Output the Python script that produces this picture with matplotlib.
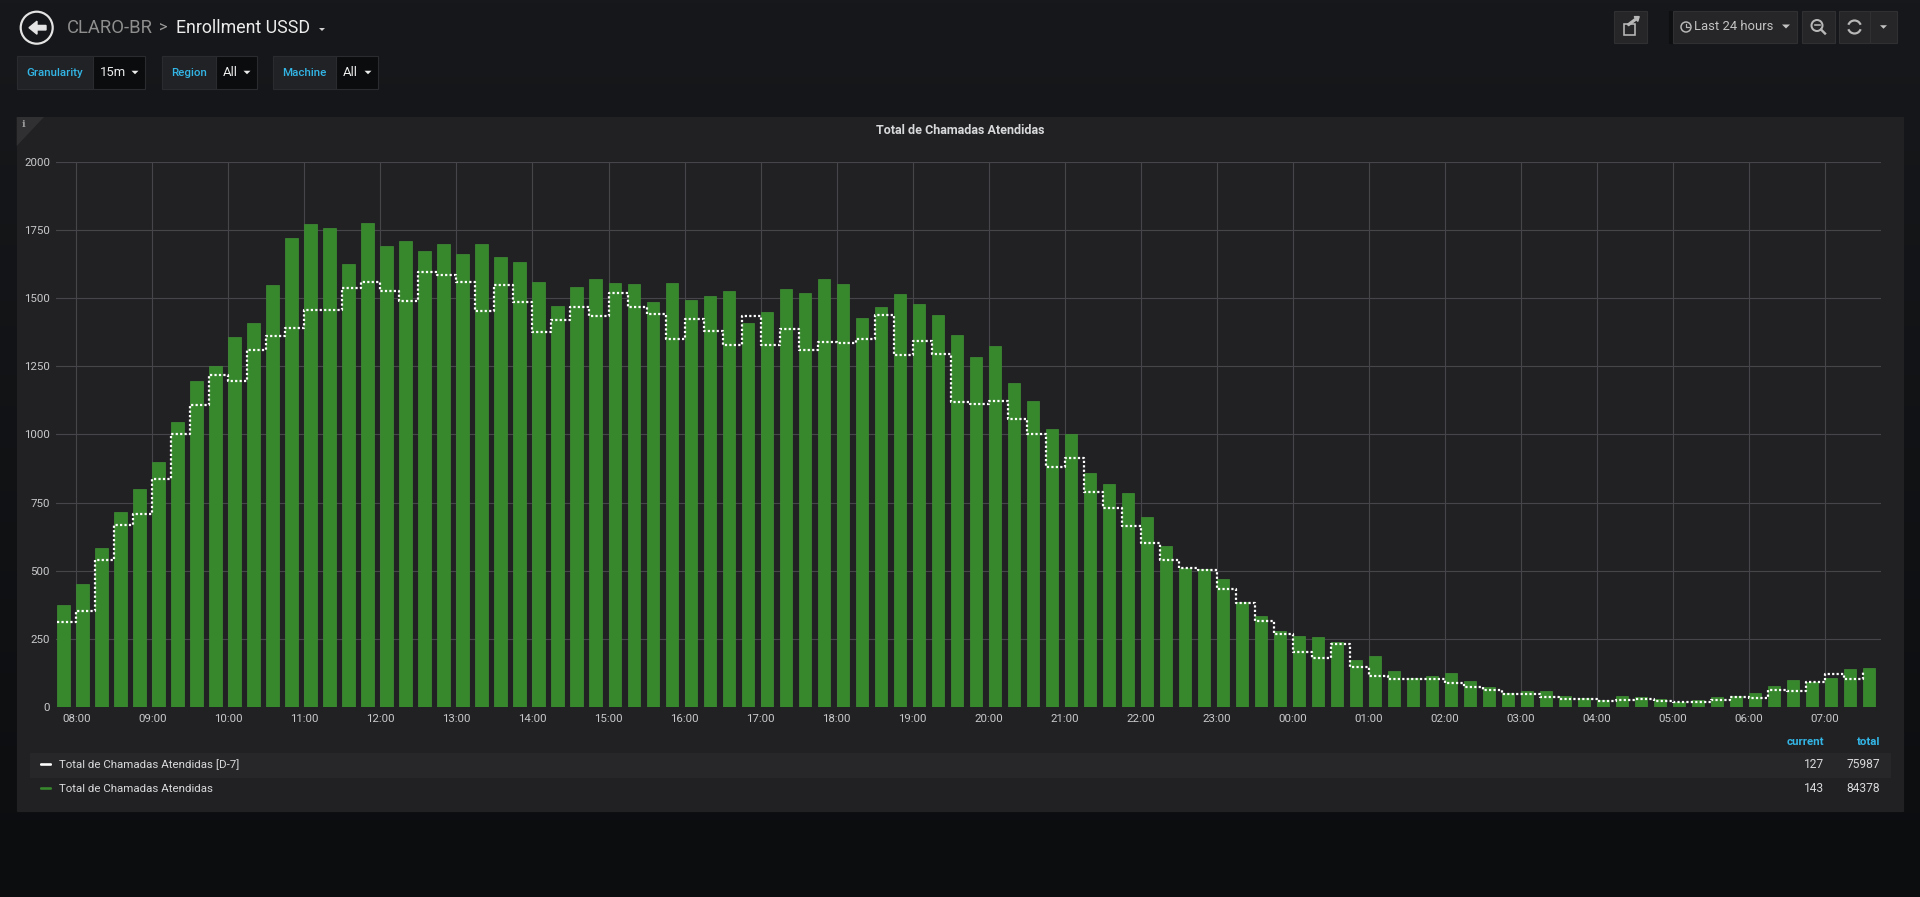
import matplotlib
matplotlib.use("Agg")
import matplotlib.pyplot as plt
import matplotlib.dates as mdates
import matplotlib.patches as mpatches
from matplotlib.colors import LinearSegmentedColormap
import numpy as np
import pandas as pd

plt.rcParams["font.family"] = ["Roboto", "DejaVu Sans"]

# 15-minute buckets, last 24 hours
START = "2018-06-11 07:45"
ATENDIDAS = [
    373, 451, 584, 714, 799, 898, 1044, 1194, 1250, 1356,
    1408, 1548, 1720, 1772, 1756, 1624, 1777, 1692, 1710, 1674,
    1698, 1661, 1698, 1650, 1632, 1560, 1471, 1542, 1571, 1556,
    1552, 1484, 1555, 1494, 1508, 1526, 1407, 1447, 1533, 1518,
    1571, 1550, 1426, 1468, 1513, 1478, 1436, 1363, 1285, 1323,
    1189, 1121, 1019, 1002, 857, 817, 785, 696, 590, 511,
    505, 468, 386, 332, 277, 262, 255, 239, 173, 186,
    133, 107, 115, 123, 96, 74, 52, 59, 58, 39,
    33, 26, 41, 38, 28, 20, 25, 35, 39, 52,
    77, 99, 90, 107, 141, 144,
]
ATENDIDAS_D7 = [
    312, 352, 540, 669, 709, 835, 1002, 1107, 1217, 1196,
    1311, 1360, 1391, 1455, 1455, 1536, 1558, 1526, 1489, 1594,
    1584, 1558, 1452, 1546, 1487, 1376, 1420, 1468, 1434, 1520,
    1466, 1443, 1349, 1423, 1379, 1327, 1434, 1327, 1385, 1308,
    1339, 1334, 1350, 1436, 1292, 1342, 1294, 1117, 1112, 1122,
    1057, 1002, 880, 912, 788, 731, 663, 602, 540, 508,
    503, 432, 381, 316, 267, 202, 178, 231, 146, 112,
    104, 103, 103, 88, 73, 62, 49, 46, 35, 29,
    29, 22, 25, 30, 23, 20, 20, 26, 38, 32,
    64, 57, 90, 120, 102, 127,
]
Y_TICKS = [0, 250, 500, 750, 1000, 1250, 1500, 1750, 2000]

SERIES_NAMES = ["Total de Chamadas Atendidas [D-7]", "Total de Chamadas Atendidas"]
LEGEND_CURRENT = ["127", "143"]
LEGEND_TOTAL = ["75987", "84378"]
VARIABLES = [("Granularity", "15m"), ("Region", "All"), ("Machine", "All")]

GREEN = "#37872D"
TEXT = "#d8d9da"
BLUE = "#33b5e5"
PANEL = "#212124"

W, H = 1920, 897
fig = plt.figure(figsize=(W / 100, H / 100), dpi=100)

# page background + chrome, drawn in pixel coordinates
bg = fig.add_axes([0, 0, 1, 1])
bg.set_xlim(0, W)
bg.set_ylim(H, 0)
bg.axis("off")
grad = LinearSegmentedColormap.from_list("page", ["#17181b", "#0c0d0f"])
bg.imshow(np.linspace(0, 1, 256).reshape(-1, 1), cmap=grad, extent=[0, W, H, 0],
          aspect="auto", zorder=0)


def px(v):
    return v * 0.72


def box(x0, y0, x1, y1, fc, ec=None, z=1):
    bg.add_patch(mpatches.Rectangle((x0, y0), x1 - x0, y1 - y0, facecolor=fc,
                                    edgecolor=ec if ec else fc, lw=0.8, zorder=z))


def caret(x, y, s, color):
    # small downward triangle centred on (x, y)
    bg.add_patch(mpatches.Polygon([(x - s, y - s / 2), (x + s, y - s / 2), (x, y + s / 2)],
                                  closed=True, facecolor=color, edgecolor="none", zorder=4))


# header: back button + breadcrumb
bg.add_patch(mpatches.Circle((36.7, 27.7), 16, facecolor="none", edgecolor="#e4e4e4",
                             lw=px(2.2), zorder=2))
bg.add_patch(mpatches.FancyArrow(46, 27.7, -9, 0, width=4.5, head_width=13,
                                 head_length=8, color="#e4e4e4", zorder=3))
bg.text(67, 28, "CLARO-BR", color="#8e8e8e", fontsize=px(18.5), va="center", zorder=3)
bg.text(159, 28, ">", color="#9a9a9a", fontsize=px(16), va="center", zorder=3)
bg.text(176, 28, "Enrollment USSD", color="#ececec", fontsize=px(17.8), va="center", zorder=3)
caret(322, 29.5, 3, "#d0d0d0")

# template variables
var_boxes = [(16.5, 93, 145), (161.7, 215.6, 257), (273, 336, 378)]
for (label, value), (x0, xm, x1) in zip(VARIABLES, var_boxes):
    box(x0, 55.7, xm, 89.3, "#202226", "#2a2b2f", z=2)
    box(xm, 55.7, x1, 89.3, "#0b0c0e", "#2a2b2f", z=2)
    bg.text((x0 + xm) / 2, 73, label, color=BLUE, fontsize=px(11.5), fontweight="medium",
            ha="center", va="center", zorder=3)
    bg.text(xm + 7, 73, value, color="#ececec", fontsize=px(13), va="center", zorder=3)
    caret(x1 - 10, 72.5, 3.5, "#ececec")

# top-right buttons
BTN = "#262628"
BTN_EC = "#303033"
ICON = "#b8b8b8"
box(1614, 11, 1647, 42.7, BTN, BTN_EC, z=2)
bg.add_patch(mpatches.Rectangle((1624, 24), 11, 11, facecolor="none", edgecolor=ICON,
                                lw=px(1.6), zorder=3))
bg.add_patch(mpatches.FancyArrow(1628, 25, 8, -6, width=1.8, head_width=6, head_length=4,
                                 color=ICON, zorder=4))
box(1669, 11, 1673, 42.7, "#0e0f11", z=2)
box(1673, 11, 1797, 42.7, BTN, BTN_EC, z=2)
bg.add_patch(mpatches.Circle((1686, 27), 5, facecolor="none", edgecolor=ICON,
                             lw=px(1.5), zorder=3))
bg.plot([1686, 1686, 1688.5], [24, 27.5, 27.5], color=ICON, lw=px(1.2), zorder=3)
bg.text(1694, 27, "Last 24 hours", color="#c4c4c4", fontsize=px(13), va="center", zorder=3)
caret(1786, 26.5, 4, "#c4c4c4")
box(1802, 11, 1835, 42.7, BTN, BTN_EC, z=2)
bg.add_patch(mpatches.Circle((1817, 25.5), 5.5, facecolor="none", edgecolor=ICON,
                             lw=px(2), zorder=3))
bg.plot([1821, 1825], [29.5, 33.5], color=ICON, lw=px(2.4), zorder=3)
bg.plot([1814.5, 1819.5], [25.5, 25.5], color=ICON, lw=px(1.6), zorder=3)
box(1839, 11, 1870, 42.7, BTN, BTN_EC, z=2)
box(1870, 11, 1897, 42.7, BTN, BTN_EC, z=2)
bg.add_patch(mpatches.Arc((1854.5, 27), 13, 13, theta1=20, theta2=160, edgecolor=ICON,
                          lw=px(2.2), zorder=3))
bg.add_patch(mpatches.Arc((1854.5, 27), 13, 13, theta1=200, theta2=340, edgecolor=ICON,
                          lw=px(2.2), zorder=3))
caret(1883.5, 27, 3.5, "#c4c4c4")

# panel
box(16.7, 117, 1903, 810.7, PANEL, z=1)
bg.add_patch(mpatches.Polygon([(16.7, 117), (44, 117), (16.7, 146)], closed=True,
                              facecolor="#303033", edgecolor="none", zorder=2))
bg.text(24, 124.5, "i", color="#9a9a9a", fontsize=px(10), fontweight="bold",
        ha="center", va="center", zorder=3, family=["DejaVu Serif"])
bg.text(960, 130, "Total de Chamadas Atendidas", color=TEXT, fontsize=px(12.5),
        fontweight="bold", ha="center", va="center", zorder=3)

# legend
box(30, 752.7, 1890, 776.7, "#27272a", z=2)
bg.text(1824, 742, "current", color=BLUE, fontsize=px(11.5), fontweight="bold",
        ha="right", va="center", zorder=3)
bg.text(1880, 742, "total", color=BLUE, fontsize=px(11.5), fontweight="bold",
        ha="right", va="center", zorder=3)
for i, (name, colour) in enumerate(zip(SERIES_NAMES, ["#ffffff", GREEN])):
    yy = 764.5 + 24 * i
    bg.add_patch(mpatches.FancyBboxPatch((40, yy - 1.3), 12, 2.6,
                                         boxstyle="round,pad=0,rounding_size=1.2",
                                         facecolor=colour, edgecolor="none", zorder=3))
    bg.text(59, yy, name, color=TEXT, fontsize=px(11.5), va="center", zorder=3)
    bg.text(1824, yy, LEGEND_CURRENT[i], color=TEXT, fontsize=px(12), ha="right",
            va="center", zorder=3)
    bg.text(1880, yy, LEGEND_TOTAL[i], color=TEXT, fontsize=px(12), ha="right",
            va="center", zorder=3)

# the graph
x0, x1, y_top, y_bot = 56, 1881, 161.7, 707
ax = fig.add_axes([x0 / W, (H - y_bot) / H, (x1 - x0) / W, (y_bot - y_top) / H])
ax.set_facecolor("none")

times = pd.date_range(START, periods=len(ATENDIDAS), freq="15min")
t = mdates.date2num(times.to_pydatetime())
step = t[1] - t[0]

ax.bar(t, ATENDIDAS, width=step * 0.65, align="edge", color=GREEN,
       edgecolor="#3f8f35", linewidth=0.5, zorder=2)
ax.step(t, ATENDIDAS_D7, where="post", color="#ffffff", lw=1.6,
        linestyle=(0, (1, 1)), zorder=3)

ax.set_xlim(t[0] - step / 15, t[0] + 1 - step / 18)
ax.set_ylim(0, 2000)
ax.set_yticks(Y_TICKS)
ax.xaxis.set_major_locator(mdates.HourLocator())
ax.xaxis.set_major_formatter(mdates.DateFormatter("%H:%M"))
ax.grid(True, color="#46464a", lw=0.8)
ax.set_axisbelow(True)
for s in ax.spines.values():
    s.set_visible(False)
ax.tick_params(axis="both", length=0, labelcolor="#c8c9ca", labelsize=px(11.5))
ax.tick_params(axis="y", pad=px(6))
ax.tick_params(axis="x", pad=px(7))

fig.savefig("out.png", dpi=100, facecolor=fig.get_facecolor())
